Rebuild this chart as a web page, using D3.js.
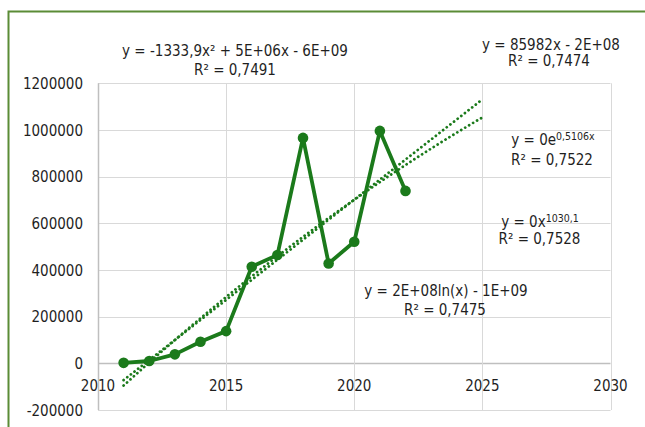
<!DOCTYPE html>
<html>
<head>
<meta charset="utf-8">
<script src="https://cdn.jsdelivr.net/npm/d3@7"></script>
<style>
  body { margin: 0; background: #fff; }
  svg text { font-family: "DejaVu Sans Condensed", "DejaVu Sans", sans-serif; font-stretch: condensed; fill: #1f1f1f; }
</style>
</head>
<body>
<svg width="645" height="427"></svg>
<script>
// data
var years = [2011, 2012, 2013, 2014, 2015, 2016, 2017, 2018, 2019, 2020, 2021, 2022];
var values = [2000, 10000, 38500, 92500, 138000, 414000, 464000, 966000, 428000, 521000, 996000, 739000];
var xTicks = [2010, 2015, 2020, 2025, 2030];
var yTicks = [-200000, 0, 200000, 400000, 600000, 800000, 1000000, 1200000];
var trendEnd = 2025;

function main() {
    var svg = d3.select("svg");
    var green = "#1b7a1b";
    var fs = "15px";

    // outer chart border (only left/top visible)
    svg.append("rect")
      .attr("x", 8.5).attr("y", 11.5)
      .attr("width", 700).attr("height", 500)
      .attr("fill", "none")
      .attr("stroke", "#5b8c36")
      .attr("stroke-width", 2);

    var x = d3.scaleLinear().domain([2010, 2030]).range([98, 610.5]);
    var y = d3.scaleLinear().domain([-200000, 1200000]).range([410, 83.3]);

    // grid
    svg.append("g").selectAll("line")
      .data(yTicks)
      .join("line")
        .attr("x1", x(2010)).attr("x2", x(2030))
        .attr("y1", d => Math.round(y(d)) + 0.5).attr("y2", d => Math.round(y(d)) + 0.5)
        .attr("stroke", d => d === 0 ? "#bfbfbf" : "#d9d9d9")
        .attr("stroke-width", d => d === 0 ? 1.5 : 1);
    svg.append("g").selectAll("line")
      .data(xTicks)
      .join("line")
        .attr("x1", d => Math.round(x(d)) + 0.5).attr("x2", d => Math.round(x(d)) + 0.5)
        .attr("y1", y(1200000)).attr("y2", y(-200000))
        .attr("stroke", d => d === 2010 ? "#bfbfbf" : "#d9d9d9")
        .attr("stroke-width", d => d === 2010 ? 1.5 : 1);

    // y labels
    svg.append("g").selectAll("text")
      .data(yTicks)
      .join("text")
        .attr("x", 83)
        .attr("y", d => y(d) + 5.7)
        .attr("text-anchor", "end")
        .attr("font-size", fs)
        .text(d => d);

    // x labels, next to the zero line
    svg.append("g").selectAll("text")
      .data(xTicks)
      .join("text")
        .attr("x", d => x(d))
        .attr("y", y(0) + 27.3)
        .attr("text-anchor", "middle")
        .attr("font-size", fs)
        .text(d => d);

    // least-squares trendlines (linear and quadratic) computed from the data
    var mx = d3.mean(years), my = d3.mean(values);
    var d1 = years.map(v => v - mx);
    var m2 = d3.mean(d1, v => v * v);
    var d2 = d1.map(v => v * v - m2);
    var b = d3.sum(d1, (v, i) => v * values[i]) / d3.sum(d1, v => v * v);
    var a = d3.sum(d2, (v, i) => v * values[i]) / d3.sum(d2, v => v * v);
    var span = d3.range(years[0], trendEnd + 0.001, 0.25);
    var lin = span.map(t => [t, my + b * (t - mx)]);
    var quad = span.map(t => [t, my + b * (t - mx) + a * ((t - mx) * (t - mx) - m2)]);

    var line = d3.line().x(d => x(d[0])).y(d => y(d[1]));
    [lin, quad].forEach(function(pts) {
        svg.append("path")
          .attr("d", line(pts))
          .attr("fill", "none")
          .attr("stroke", green)
          .attr("stroke-width", 2.8)
          .attr("stroke-linecap", "round")
          .attr("stroke-dasharray", "0.01 4.6");
    });

    // series
    var pts = years.map((t, i) => [t, values[i]]);
    svg.append("path")
      .attr("d", line(pts))
      .attr("fill", "none")
      .attr("stroke", green)
      .attr("stroke-width", 3.8)
      .attr("stroke-linejoin", "round");
    svg.append("g").selectAll("circle")
      .data(pts)
      .join("circle")
        .attr("cx", d => x(d[0]))
        .attr("cy", d => y(d[1]))
        .attr("r", 5.3)
        .attr("fill", green);

    // trendline labels: main text plus optional superscript
    function label(cx, cy, main, sup) {
        var t = svg.append("text")
          .attr("x", cx).attr("y", cy)
          .attr("text-anchor", "middle")
          .attr("font-size", fs);
        t.append("tspan").text(main);
        if (sup) {
            t.append("tspan").attr("font-size", "10.5px").attr("dy", -5.5).text(sup);
        }
    }
    label(235, 56, "y = -1333,9x² + 5E+06x - 6E+09");
    label(235, 75, "R² = 0,7491");
    label(551, 49.5, "y = 85982x - 2E+08");
    label(549, 66, "R² = 0,7474");
    label(553, 145, "y = 0e", "0,5106x");
    label(552, 165, "R² = 0,7522");
    label(540, 227, "y = 0x", "1030,1");
    label(539.5, 243.5, "R² = 0,7528");
    label(446, 296, "y = 2E+08ln(x) - 1E+09");
    label(445, 315, "R² = 0,7475");
}
main();
</script>
</body>
</html>
